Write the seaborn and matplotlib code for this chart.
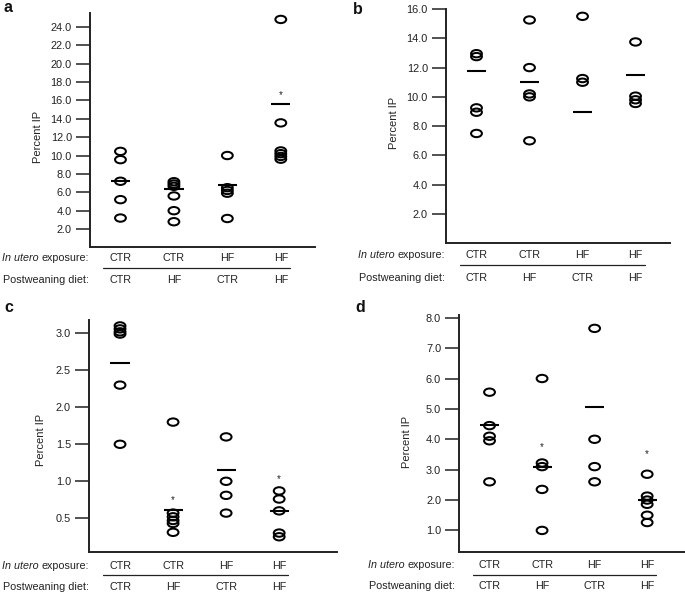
import numpy as np
import pandas as pd
import matplotlib
matplotlib.use("Agg")
import matplotlib.pyplot as plt
import matplotlib.transforms as mtrans
from matplotlib.path import Path
import seaborn as sns

sns.set_theme(style="white")
plt.rcParams['font.family'] = ['Liberation Sans', 'DejaVu Sans']

groups = ["CTR/CTR", "CTR/HF", "HF/CTR", "HF/HF"]
in_utero = ["CTR", "CTR", "HF", "HF"]
postweaning = ["CTR", "HF", "CTR", "HF"]

a_vals = [[10.45, 9.55, 7.2, 5.2, 3.2],
          [7.15, 6.9, 6.65, 5.6, 4.0, 2.8],
          [10.0, 6.5, 6.2, 5.9, 3.15],
          [24.8, 13.55, 10.5, 10.2, 9.9, 9.6]]
a_means = [7.2, 6.35, 6.8, 15.6]
a_stars = [None, None, None, 16.6]
a_ticks = [2.0, 4.0, 6.0, 8.0, 10.0, 12.0, 14.0, 16.0, 18.0, 20.0, 22.0, 24.0]

b_vals = [[12.95, 12.75, 9.25, 8.95, 7.5],
          [15.25, 12.0, 10.2, 10.0, 7.0],
          [15.5, 11.25, 11.0],
          [13.75, 10.05, 9.8, 9.55]]
b_means = [11.75, 11.0, 9.0, 11.5]
b_stars = [None, None, None, None]
b_ticks = [2.0, 4.0, 6.0, 8.0, 10.0, 12.0, 14.0, 16.0]

c_vals = [[3.1, 3.06, 3.02, 2.99, 2.3, 1.5],
          [1.8, 0.57, 0.52, 0.47, 0.43, 0.31],
          [1.6, 1.0, 0.81, 0.57],
          [0.87, 0.76, 0.6, 0.3, 0.25]]
c_means = [2.6, 0.61, 1.15, 0.6]
c_stars = [None, 0.74, None, 1.03]
c_ticks = [0.5, 1.0, 1.5, 2.0, 2.5, 3.0]

d_vals = [[5.55, 4.45, 4.1, 3.95, 2.6],
          [6.0, 3.22, 3.1, 2.35, 1.0],
          [7.65, 4.0, 3.1, 2.6],
          [2.85, 2.13, 2.0, 1.86, 1.5, 1.26]]
d_means = [4.48, 3.1, 5.07, 2.0]
d_stars = [None, 3.74, None, 3.52]
d_ticks = [1.0, 2.0, 3.0, 4.0, 5.0, 6.0, 7.0, 8.0]

W, H = 685, 594
fig = plt.figure(figsize=(W / 100, H / 100), dpi=100)

# ellipse marker
ell = Path.unit_circle().transformed(mtrans.Affine2D().scale(1.0, 0.68))

FS = 7.9
FSB = 7.75
INK = "#222222"

def px_axes(l, t, r, b):
    return fig.add_axes([l / W, 1 - b / H, (r - l) / W, (b - t) / H])

def panel(rect, vals, means, stars, ticks, ylim, xlim, fmt, letter, letter_xy,
          ylab_xy, offs, lx):
    ax = px_axes(*rect)
    df = pd.DataFrame({
        "group": [g for g, v in zip(groups, vals) for _ in v],
        "value": [x for v in vals for x in v],
    })
    sns.stripplot(data=df, x="group", y="value", order=groups, jitter=False,
                  marker=ell, size=7.8, color="black", ax=ax, zorder=3)
    for coll in ax.collections:
        coll.set_facecolor("none")
        coll.set_edgecolor("black")
        coll.set_linewidth(1.45)
    pos = np.arange(len(groups))
    ax.hlines(means, pos - 0.18, pos + 0.18, color="black", lw=1.5, zorder=4)
    for p, s in zip(pos, stars):
        if s is not None:
            ax.text(p, s, "*", ha="center", va="center", fontsize=7, color=INK)
    ax.set_xlim(*xlim)
    ax.set_ylim(*ylim)
    ax.set_yticks(ticks)
    ax.set_yticklabels([fmt.format(t) for t in ticks], fontsize=FS, color=INK)
    ax.tick_params(axis="y", length=10, width=1.1, pad=3, color=INK, left=True)
    ax.tick_params(axis="x", length=0)
    ax.set_xticks(pos)
    ax.set_xticklabels([])
    ax.set_xlabel("")
    ax.set_ylabel("Percent IP", fontsize=8.0, color=INK)
    ax.yaxis.set_label_coords(*ylab_xy)
    for sp in ["top", "right"]:
        ax.spines[sp].set_visible(False)
    for sp in ["left", "bottom"]:
        ax.spines[sp].set_linewidth(1.4)
        ax.spines[sp].set_color(INK)
    ax.grid(False)
    ax.set_facecolor("none")

    o1, osep, o2 = offs
    base = mtrans.blended_transform_factory(ax.transData, ax.transAxes)
    base_ax = ax.transAxes
    r1 = mtrans.offset_copy(base, fig=fig, x=0, y=-o1, units="dots")
    r2 = mtrans.offset_copy(base, fig=fig, x=0, y=-o2, units="dots")
    sep = mtrans.offset_copy(base, fig=fig, x=0, y=-osep, units="dots")
    for p, u, q in zip(pos, in_utero, postweaning):
        ax.text(p, 0, u, transform=r1, ha="center", va="center", fontsize=FSB,
                color=INK, clip_on=False)
        ax.text(p, 0, q, transform=r2, ha="center", va="center", fontsize=FSB,
                color=INK, clip_on=False)
    ax.plot([-0.32, 3.17], [0, 0], transform=sep, color=INK, lw=0.9, clip_on=False)
    l1 = mtrans.offset_copy(base_ax, fig=fig, x=lx, y=-o1, units="dots")
    l2 = mtrans.offset_copy(base_ax, fig=fig, x=lx, y=-o2, units="dots")
    t = ax.text(0, 0, "exposure:", transform=l1, ha="right", va="center",
                fontsize=FSB, color=INK, clip_on=False)
    ax.annotate("In utero ", xy=(0, 0.5), xycoords=t, ha="right", va="center",
                fontsize=FSB, style="italic", color=INK)
    ax.text(0, 0, "Postweaning diet:", transform=l2, ha="right", va="center",
            fontsize=FSB, color=INK, clip_on=False)
    fig.text(letter_xy[0] / W, 1 - letter_xy[1] / H, letter, fontsize=11.5,
             fontweight="bold", ha="left", va="center", color="#111111")
    return ax

panel((90, 13, 315, 247), a_vals, a_means, a_stars, a_ticks, (0.05, 25.5),
      (-0.57, 3.64), "{:.1f}", "a", (4, 8), (-0.21, 0.47), (11, 20.7, 33), -1)
panel((446, 9, 670, 243.3), b_vals, b_means, b_stars, b_ticks, (0.0, 16.0),
      (-0.575, 3.65), "{:.1f}", "b", (353, 9), (-0.21, 0.513), (12, 21.5, 34.5), -1)
panel((89, 320, 337, 552.3), c_vals, c_means, c_stars, c_ticks, (0.04, 3.18),
      (-0.585, 4.09), "{:.1f}", "c", (4, 308), (-0.175, 0.483), (13.5, 23, 35), 0)
panel((459.3, 315, 685, 551.7), d_vals, d_means, d_stars, d_ticks, (0.3, 8.09),
      (-0.575, 3.72), "{:.1f}", "d", (355, 308), (-0.21, 0.465), (13.5, 23, 34.5), -4)

fig.savefig("out.png", dpi=100, facecolor="white")
